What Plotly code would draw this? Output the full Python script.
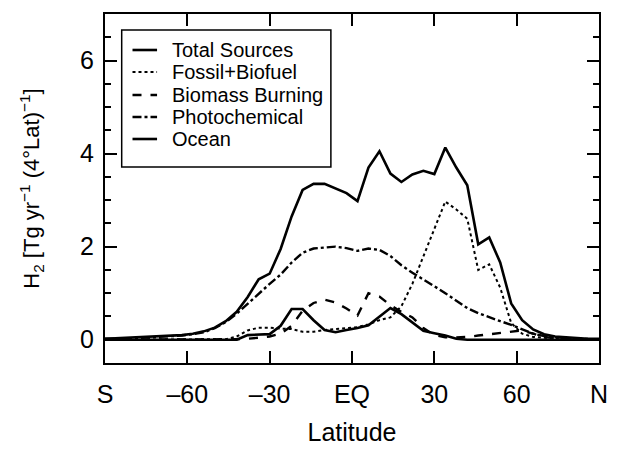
import plotly.graph_objects as go

# Latitude bin centres (4 degree bins)
latitude = list(range(-90, 91, 4))

total_sources = [0.02, 0.03, 0.04, 0.05, 0.06, 0.07, 0.08, 0.10, 0.13, 0.18, 0.26, 0.40,
                 0.60, 0.92, 1.30, 1.42, 1.95, 2.65, 3.22, 3.35, 3.35, 3.25, 3.15, 2.98,
                 3.70, 4.05, 3.57, 3.39, 3.55, 3.63, 3.56, 4.13, 3.70, 3.32, 2.05, 2.20,
                 1.66, 0.78, 0.42, 0.22, 0.12, 0.07, 0.05, 0.03, 0.02, 0.02]

fossil_biofuel = [0.0, 0.0, 0.0, 0.0, 0.0, 0.0, 0.0, 0.0, 0.0, 0.0, 0.01, 0.01,
                  0.07, 0.20, 0.26, 0.26, 0.24, 0.23, 0.17, 0.17, 0.21, 0.23, 0.24, 0.27,
                  0.33, 0.42, 0.48, 0.72, 1.20, 1.80, 2.40, 2.97, 2.80, 2.60, 1.50, 1.62,
                  1.12, 0.36, 0.13, 0.06, 0.04, 0.03, 0.02, 0.01, 0.01, 0.0]

biomass_burning = [0.0, 0.0, 0.0, 0.0, 0.0, 0.0, 0.0, 0.0, 0.0, 0.0, 0.0, 0.0,
                   0.01, 0.02, 0.04, 0.07, 0.13, 0.30, 0.62, 0.79, 0.86, 0.80, 0.67, 0.52,
                   1.00, 0.93, 0.74, 0.60, 0.48, 0.25, 0.10, 0.05, 0.05, 0.06, 0.09, 0.12,
                   0.15, 0.18, 0.20, 0.13, 0.06, 0.03, 0.01, 0.0, 0.0, 0.0]

photochemical = [0.02, 0.02, 0.03, 0.04, 0.05, 0.06, 0.07, 0.09, 0.12, 0.16, 0.25, 0.38,
                 0.56, 0.78, 1.00, 1.20, 1.40, 1.66, 1.87, 1.96, 1.98, 2.00, 1.97, 1.91,
                 1.96, 1.93, 1.80, 1.60, 1.44, 1.30, 1.15, 1.00, 0.84, 0.68, 0.57, 0.48,
                 0.40, 0.32, 0.22, 0.13, 0.08, 0.05, 0.03, 0.02, 0.01, 0.01]

ocean = [0.0, 0.0, 0.0, 0.0, 0.0, 0.0, 0.0, 0.0, 0.0, 0.0, 0.0, 0.0,
         0.0, 0.10, 0.11, 0.12, 0.30, 0.66, 0.66, 0.42, 0.21, 0.16, 0.21, 0.25,
         0.31, 0.49, 0.68, 0.55, 0.36, 0.19, 0.14, 0.09, 0.02, 0.0, 0.0, 0.0,
         0.0, 0.0, 0.0, 0.0, 0.0, 0.0, 0.0, 0.0, 0.0, 0.0]

x_tick_vals = [-90, -60, -30, 0, 30, 60, 90]
x_tick_text = ["S", "\u201360", "\u201330", "EQ", "30", "60", "N"]
y_tick_vals = [0, 2, 4, 6]

series = [
    ("Total Sources", total_sources, "solid", 2.6),
    ("Fossil+Biofuel", fossil_biofuel, "dot", 2.0),
    ("Biomass Burning", biomass_burning, "dash", 2.4),
    ("Photochemical", photochemical, "dashdot", 2.4),
    ("Ocean", ocean, "solid", 2.6),
]

FONT = "Liberation Sans, Arial, sans-serif"

# Figure and plot-area geometry (pixels)
FIG_W, FIG_H = 618, 452
M_L, M_R, M_T, M_B = 105, 10, 14, 89
PLOT_W = FIG_W - M_L - M_R
PLOT_H = FIG_H - M_T - M_B


def paper_x(px):
    return (px - M_L) / PLOT_W


def paper_y(py):
    return (FIG_H - M_B - py) / PLOT_H


fig = go.Figure()
for name, values, dash, width in series:
    fig.add_trace(go.Scatter(
        x=latitude, y=values, name=name, mode="lines",
        line=dict(color="black", dash=dash, width=width),
        showlegend=False,
    ))

# Boxed key in the upper-left corner of the plot area
shapes = [dict(
    type="rect", xref="paper", yref="paper", layer="above",
    x0=paper_x(122), x1=paper_x(335), y0=paper_y(167), y1=paper_y(30),
    line=dict(color="black", width=1.5), fillcolor="white",
)]
annotations = []
key_rows = [50, 72, 95, 117, 139]
for (name, _, dash, width), row in zip(series, key_rows):
    shapes.append(dict(
        type="line", xref="paper", yref="paper", layer="above",
        x0=paper_x(133), x1=paper_x(158), y0=paper_y(row), y1=paper_y(row),
        line=dict(color="black", dash=dash, width=width),
    ))
    annotations.append(dict(
        xref="paper", yref="paper", x=paper_x(171), y=paper_y(row),
        xanchor="left", yanchor="middle", showarrow=False, text=name,
        font=dict(family=FONT, size=20, color="black"),
    ))

axis_common = dict(
    showgrid=False, zeroline=False, showline=True, linecolor="black", linewidth=2,
    mirror="allticks", ticks="inside", tickcolor="black", tickwidth=1.5, ticklen=12,
    tickfont=dict(family=FONT, size=25, color="black"),
)

fig.update_layout(
    width=FIG_W, height=FIG_H,
    margin=dict(l=M_L, r=M_R, t=M_T, b=M_B),
    paper_bgcolor="white", plot_bgcolor="white",
    font=dict(family=FONT, color="black"),
    showlegend=False,
    shapes=shapes,
    annotations=annotations,
    xaxis=dict(
        range=[-90, 90], tickmode="array", tickvals=x_tick_vals, ticktext=x_tick_text,
        title=dict(text="Latitude", font=dict(family=FONT, size=25), standoff=16),
        ticklabelstandoff=8,
        **axis_common,
    ),
    yaxis=dict(
        range=[-0.5, 7], tickmode="array", tickvals=y_tick_vals,
        minor=dict(dtick=0.5, tick0=0, ticks="inside", ticklen=6, tickwidth=1.5, tickcolor="black"),
        title=dict(text="H<sub>2</sub> [Tg yr<sup>\u22121</sup> (4\u00b0Lat)<sup>\u22121</sup>]",
                   font=dict(family=FONT, size=22), standoff=34),
        ticklabelstandoff=4,
        **axis_common,
    ),
)

fig.write_html("out.html")
